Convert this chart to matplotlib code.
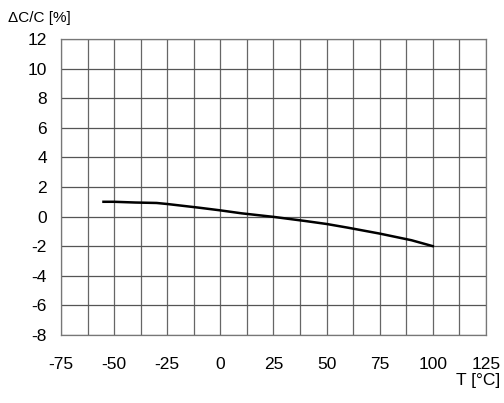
import matplotlib
matplotlib.use("Agg")
import matplotlib.pyplot as plt
import numpy as np

temp = [-55, -50, -40, -30, -25, -10, 0, 10, 25, 40, 50, 60, 75, 90, 100]
dcc = [1.0, 1.0, 0.95, 0.92, 0.85, 0.6, 0.42, 0.22, -0.02, -0.3, -0.5, -0.75, -1.15, -1.6, -2.0]

x_ticks = [-75, -50, -25, 0, 25, 50, 75, 100, 125]
y_ticks = [-8, -6, -4, -2, 0, 2, 4, 6, 8, 10, 12]

plt.rcParams['font.family'] = ['Liberation Sans', 'DejaVu Sans']
plt.rcParams['axes.unicode_minus'] = False

fig = plt.figure(figsize=(5.04, 4.03), dpi=100)
ax = fig.add_axes([0.121, 0.169, 0.843, 0.734])

ax.plot(temp, dcc, color='black', linewidth=1.8, zorder=3)

ax.set_xlim(-75, 125)
ax.set_ylim(-8, 12)
ax.set_xticks(x_ticks)
ax.set_xticks(np.arange(-75, 126, 12.5), minor=True)
ax.set_yticks(y_ticks)
ax.grid(True, which='both', axis='x', color='#666666', linewidth=0.9)
ax.grid(True, which='major', axis='y', color='#555555', linewidth=0.9)
ax.tick_params(which='both', length=0)
ax.tick_params(axis='x', pad=16, labelsize=12.5)
ax.tick_params(axis='y', pad=10, labelsize=12.5)
for s in ax.spines.values():
    s.set_color('#777777')
    s.set_linewidth(0.9)

fig.text(0.016, 0.955, '\u0394C/C [%]', fontsize=11, ha='left', va='center')
fig.text(0.993, 0.055, 'T [\u00b0C]', fontsize=12.5, ha='right', va='center')

fig.savefig('out.png', dpi=100)
